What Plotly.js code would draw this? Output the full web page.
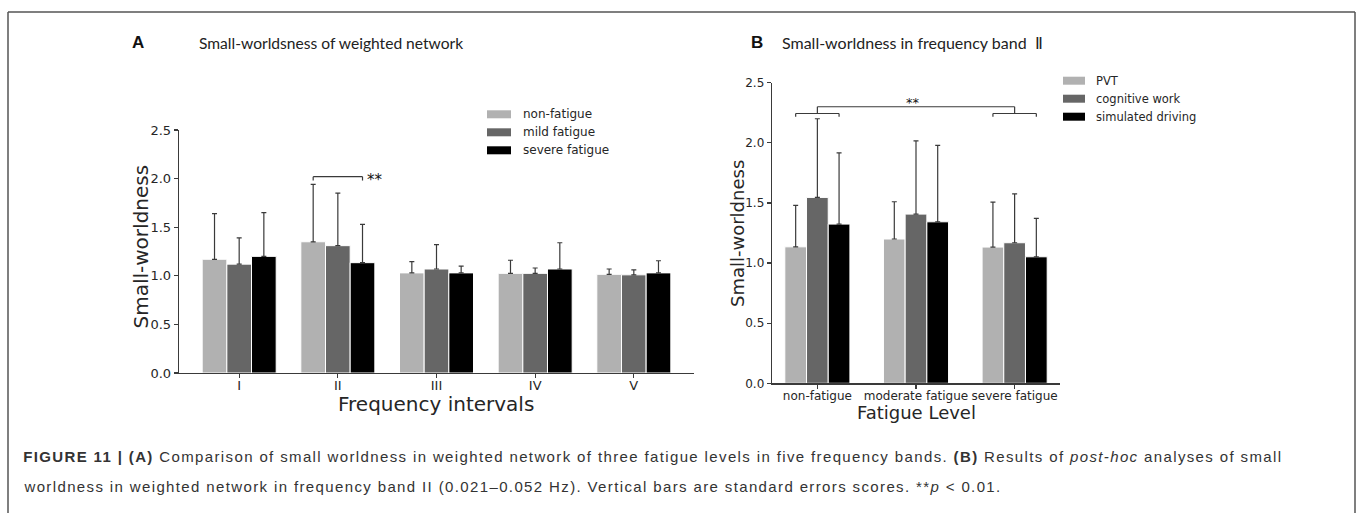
<!DOCTYPE html>
<html>
<head>
<meta charset="utf-8">
<script src="https://cdn.plot.ly/plotly-3.0.1.min.js"></script>
<style>
html,body{margin:0;padding:0;background:#fff;}
#chart{width:1357px;height:513px;}
g.annotation[data-index="0"] text, g.annotation[data-index="1"] text { letter-spacing: 1.37px; }
</style>
</head>
<body>
<div id="chart"></div>
<script>
// ---------- Panel A data ----------
const freqIntervals = ["I", "II", "III", "IV", "V"];
const seriesA = ["non-fatigue", "mild fatigue", "severe fatigue"];
const nonFatigueA = [1.17, 1.35, 1.03, 1.025, 1.015];
const nonFatigueErrA = [0.47, 0.59, 0.115, 0.135, 0.055];
const mildFatigueA = [1.12, 1.31, 1.07, 1.025, 1.01];
const mildFatigueErrA = [0.27, 0.54, 0.25, 0.055, 0.05];
const severeFatigueA = [1.20, 1.135, 1.03, 1.07, 1.03];
const severeFatigueErrA = [0.45, 0.395, 0.07, 0.27, 0.125];

// ---------- Panel B data ----------
const fatigueLevels = ["non-fatigue", "moderate fatigue", "severe fatigue"];
const seriesB = ["PVT", "cognitive work", "simulated driving"];
const pvtB = [1.135, 1.20, 1.133];
const pvtErrB = [0.345, 0.31, 0.374];
const cognitiveB = [1.546, 1.407, 1.169];
const cognitiveErrB = [0.654, 0.61, 0.407];
const drivingB = [1.324, 1.343, 1.052];
const drivingErrB = [0.593, 0.635, 0.32];

const yTicks = [0.0, 0.5, 1.0, 1.5, 2.0, 2.5];
const colors = ["#b1b1b1", "#666666", "#000000"];

const W = 1357, H = 513;
const px = v => v / W;
const py = v => 1 - v / H;

function barTrace(name, xs, ys, errs, color, width, offset, xa, ya) {
  return {
    type: "bar", name: name, x: xs, y: ys, width: width, offset: offset,
    xaxis: xa, yaxis: ya, showlegend: false,
    marker: {color: color, line: {color: "#ffffff", width: 1}},
    error_y: {type: "data", symmetric: false, array: errs, arrayminus: errs.map(() => 0),
              color: "#3a3a3a", thickness: 1.2, width: 2.5},
    hoverinfo: "skip"
  };
}

const xA = freqIntervals.map((c, i) => i);
const xB = fatigueLevels.map((c, i) => i);
const wA = 0.25, wB = 0.22;

const traces = [
  barTrace(seriesA[0], xA, nonFatigueA, nonFatigueErrA, colors[0], wA, -1.5 * wA, "x", "y"),
  barTrace(seriesA[1], xA, mildFatigueA, mildFatigueErrA, colors[1], wA, -0.5 * wA, "x", "y"),
  barTrace(seriesA[2], xA, severeFatigueA, severeFatigueErrA, colors[2], wA, 0.5 * wA, "x", "y"),
  barTrace(seriesB[0], xB, pvtB, pvtErrB, colors[0], wB, -1.5 * wB, "x2", "y2"),
  barTrace(seriesB[1], xB, cognitiveB, cognitiveErrB, colors[1], wB, -0.5 * wB, "x2", "y2"),
  barTrace(seriesB[2], xB, drivingB, drivingErrB, colors[2], wB, 0.5 * wB, "x2", "y2")
];

const axisCommon = {
  showline: true, linecolor: "#3a3a3a", linewidth: 1.3, mirror: false,
  showgrid: false, zeroline: false, ticks: "outside", ticklen: 4, tickwidth: 1.2,
  tickcolor: "#3a3a3a", fixedrange: true
};

const layout = {
  width: W, height: H, margin: {l: 0, r: 0, t: 0, b: 0},
  paper_bgcolor: "#ffffff", plot_bgcolor: "#ffffff",
  barmode: "overlay", showlegend: false,
  font: {family: "DejaVu Sans", color: "#262626"},
  xaxis: Object.assign({}, axisCommon, {
    domain: [px(179), px(694)], anchor: "y", range: [-0.61, 4.61],
    tickmode: "array", tickvals: xA, ticktext: freqIntervals, ticklabelstandoff: -4,
    tickfont: {family: "DejaVu Sans", size: 13, color: "#262626"}
  }),
  yaxis: Object.assign({}, axisCommon, {
    domain: [py(373), py(130)], anchor: "x", range: [0, 2.5],
    tickmode: "array", tickvals: yTicks, ticktext: yTicks.map(v => v.toFixed(1)),
    tickfont: {family: "DejaVu Sans", size: 13, color: "#262626"}
  }),
  xaxis2: Object.assign({}, axisCommon, {
    domain: [px(772), px(1060)], anchor: "y2", range: [-0.46, 2.46],
    tickmode: "array", tickvals: xB, ticktext: fatigueLevels, ticklabelstandoff: -3,
    tickfont: {family: "DejaVu Sans", size: 12, color: "#262626"}
  }),
  yaxis2: Object.assign({}, axisCommon, {
    domain: [py(383.3), py(82.7)], anchor: "x2", range: [0, 2.5],
    tickmode: "array", tickvals: yTicks, ticktext: yTicks.map(v => v.toFixed(1)),
    tickfont: {family: "DejaVu Sans", size: 12, color: "#262626"}
  }),
  shapes: [],
  annotations: []
};

function note(x, y, text, font, extra) {
  layout.annotations.push(Object.assign({xref: "paper", yref: "paper", x: px(x), y: py(y),
    xanchor: "center", yanchor: "middle", text: text, showarrow: false, font: font}, extra || {}));
}

// caption (indices 0 and 1), centred on their line extents
note(653, 456, "<b>FIGURE 11 | (A)</b> Comparison of small worldness in weighted network of three fatigue levels in five frequency bands. <b>(B)</b> Results of <i>post-hoc</i> analyses of small",
  {family: "Liberation Sans", size: 15, color: "#333"});
note(512, 486, "worldness in weighted network in frequency band II (0.021–0.052 Hz). Vertical bars are standard errors scores. **<i>p</i> &lt; 0.01.",
  {family: "Liberation Sans", size: 15, color: "#333"});

// frame
const frameLine = {color: "#555555", width: 1.5};
layout.shapes.push({type: "line", xref: "paper", yref: "paper", x0: px(8), x1: px(8), y0: 0, y1: py(12), line: frameLine});
layout.shapes.push({type: "line", xref: "paper", yref: "paper", x0: px(8), x1: px(1355), y0: py(12), y1: py(12), line: frameLine});
layout.shapes.push({type: "line", xref: "paper", yref: "paper", x0: px(1355), x1: px(1355), y0: py(12), y1: 0, line: frameLine});

// significance brackets
const brLine = {color: "#3a3a3a", width: 1.2};
function bracket(xa, ya, x0, x1, yTop, yLow) {
  layout.shapes.push({type: "line", xref: xa, yref: ya, x0: x0, x1: x0, y0: yLow, y1: yTop, line: brLine});
  layout.shapes.push({type: "line", xref: xa, yref: ya, x0: x0, x1: x1, y0: yTop, y1: yTop, line: brLine});
  layout.shapes.push({type: "line", xref: xa, yref: ya, x0: x1, x1: x1, y0: yTop, y1: yLow, line: brLine});
}
bracket("x", "y", 1 - wA, 1 + wA, 2.02, 1.98);
layout.annotations.push({xref: "x", yref: "y", x: 1 + wA + 0.03, y: 2.02, xanchor: "left", yanchor: "middle",
  text: "**", showarrow: false, font: {family: "DejaVu Sans", size: 15, color: "#111"}, yshift: -3});
bracket("x2", "y2", 0 - wB, 0 + wB, 2.244, 2.216);
bracket("x2", "y2", 2 - wB, 2 + wB, 2.244, 2.216);
bracket("x2", "y2", 0, 2, 2.30, 2.244);
layout.annotations.push({xref: "x2", yref: "y2", x: 0.97, y: 2.30, xanchor: "center", yanchor: "bottom",
  text: "**", showarrow: false, font: {family: "DejaVu Sans", size: 13, color: "#111"}, yshift: -5});

// custom legends
function legend(names, x0, w, h, ys, tx, fs) {
  names.forEach((n, i) => {
    layout.shapes.push({type: "rect", xref: "paper", yref: "paper", x0: px(x0), x1: px(x0 + w),
      y0: py(ys[i] + h / 2), y1: py(ys[i] - h / 2), fillcolor: colors[i], line: {width: 0}});
    note(tx, ys[i], n, {family: "DejaVu Sans", size: fs, color: "#262626"}, {xanchor: "left"});
  });
}
legend(seriesA, 487, 24, 8, [114.3, 132.3, 150.3], 521, 12);
legend(seriesB, 1063, 22, 8, [80.7, 98.7, 116.7], 1094, 11.5);

// axis titles
note(140, 246.5, "Small-worldness", {family: "DejaVu Sans", size: 20, color: "#262626"}, {textangle: -90});
note(436, 404, "Frequency intervals", {family: "DejaVu Sans", size: 20, color: "#262626"});
note(737, 234, "Small-worldness", {family: "DejaVu Sans", size: 18, color: "#262626"}, {textangle: -90});
note(916, 412, "Fatigue Level", {family: "DejaVu Sans", size: 18, color: "#262626"});

// panel titles
note(138, 43, "<b>A</b>", {family: "Liberation Sans", size: 17, color: "#111"});
note(197, 43, "Small-worldsness of weighted network", {family: "Lato", size: 15.6, color: "#222"}, {xanchor: "left"});
note(757, 43, "<b>B</b>", {family: "Liberation Sans", size: 17, color: "#111"});
note(780, 43, "Small-worldness in frequency band  Ⅱ", {family: "Lato", size: 16, color: "#222"}, {xanchor: "left"});

Plotly.newPlot("chart", traces, layout, {staticPlot: true, displayModeBar: false});
</script>
</body>
</html>
